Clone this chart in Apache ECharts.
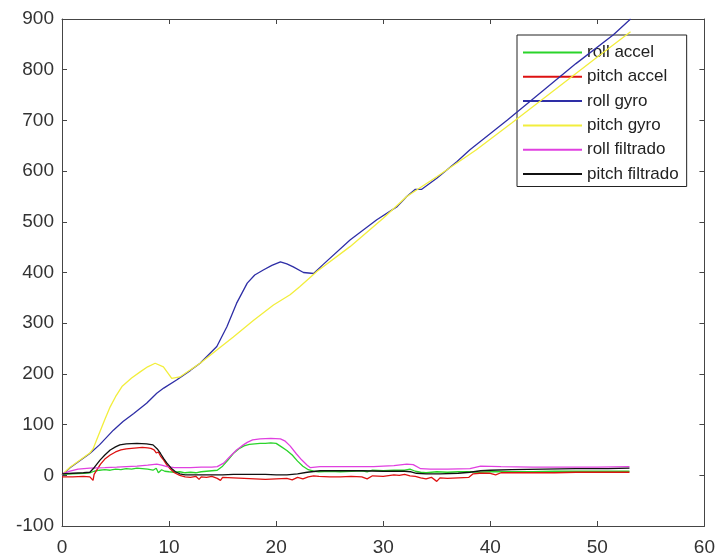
<!DOCTYPE html>
<html>
<head>
<meta charset="utf-8">
<script src="https://cdn.jsdelivr.net/npm/echarts@6/dist/echarts.min.js"></script>
<style>html,body{margin:0;padding:0;background:#fff;}#chart{width:718px;height:557px;}</style>
</head>
<body>
<div id="chart"></div>
<script>
const seriesNames = ['roll accel', 'pitch accel', 'roll gyro', 'pitch gyro', 'roll filtrado', 'pitch filtrado'];
const xTicks = [0, 10, 20, 30, 40, 50, 60];
const yTicks = [-100, 0, 100, 200, 300, 400, 500, 600, 700, 800, 900];

const rollAccel = [[0,2],[1,3],[2,4],[2.6,5],[3.0,8],[3.5,10],[4,11],[4.5,10],[5,12],[5.5,11],[6,13],[6.5,12],[7,14],[7.5,13],[8,12],[8.5,10],[8.8,14],[9,5],[9.3,11],[9.6,8],[10,7],[10.5,6],[11,7],[11.5,5],[12,6],[12.5,5],[13,7],[13.5,8],[14,9],[14.5,10],[15,18],[15.5,30],[16,43],[16.5,52],[17,58],[17.5,61],[18,62],[18.5,63],[19,63],[19.5,64],[20,63],[20.5,56],[21,49],[21.5,40],[22,28],[22.5,18],[23,11],[23.5,8],[24,7],[25,8],[26,7],[27,8],[28,9],[28.5,7],[29,10],[30,9],[31,10],[32,10],[32.5,12],[33,8],[33.5,6],[34,5],[34.5,6],[35,7],[36,6],[37,7],[38,7],[39,6],[40,7],[42,7],[44,7],[46,8],[48,8],[50,8],[53,8]];

const pitchAccel = [[0,-3],[1,-3],[2,-2],[2.6,-3],[2.9,-10],[3.0,2],[3.3,12],[3.6,22],[4,32],[4.5,40],[5,46],[5.5,50],[6,52],[6.5,53],[7,54],[7.5,55],[8,54],[8.3,53],[8.6,50],[8.8,44],[9,46],[9.2,38],[9.5,30],[9.8,20],[10.1,13],[10.5,5],[11,0],[11.5,-3],[12,-4],[12.5,-2],[12.8,-8],[13,-3],[13.5,-4],[14,-2],[14.5,-6],[14.8,-10],[15,-4],[16,-5],[17,-6],[18,-7],[19,-8],[20,-7],[21,-6],[21.5,-9],[22,-4],[22.5,-7],[23,-3],[23.5,-1],[24,-2],[25,-3],[26,-3],[27,-2],[28,-3],[28.5,-7],[29,-1],[30,-2],[31,1],[31.5,0],[32,2],[32.5,-1],[33,-2],[33.5,-5],[34,-7],[34.5,-4],[35,-12],[35.3,-5],[36,-6],[37,-5],[38,-4],[38.4,3],[39,4],[40,4],[40.5,1],[41,5],[42,5],[44,5],[46,5],[48,6],[50,6],[53,6]];

const rollGyro = [[0,0],[0.75,15],[2.6,43],[3.5,60],[4.8,89],[5.7,106],[6.7,122],[7.9,142],[8.85,162],[9.5,172],[10.7,188],[12,207],[12.9,221],[14.46,254],[15.4,293],[16.3,339],[17.3,379],[18.0,395],[18.8,405],[19.6,414],[20.4,421],[21.0,417],[21.6,411],[22.55,400],[23.5,398],[24.4,416],[26.9,464],[29.4,504],[31.3,530],[32.2,550],[33.0,564],[33.6,564],[35,586],[36.9,619],[38.1,642],[41.6,701],[45,760],[48,812],[51.5,869],[53.1,900]];

const pitchGyro = [[0,1],[0.75,16],[2.6,44],[2.9,52],[3.24,70],[4.0,110],[4.5,135],[5.0,155],[5.6,175],[6.5,192],[7.3,204],[8.0,214],[8.7,221],[9.47,214],[10.25,191],[11.0,194],[12.9,221],[14.46,247],[16.0,273],[17.9,306],[19.75,336],[21.3,356],[22.2,372],[23.8,402],[26.9,451],[30.0,507],[32.2,550],[35.0,589],[38.7,642],[42,695],[46,760],[50,825],[53.1,875]];

const rollFiltrado = [[0,3],[0.75,8],[1.5,12],[2.6,14],[4,15],[5.1,16],[6,17],[7,18],[8,20],[8.85,22],[9.3,20],[9.8,17],[10.5,15],[12,15],[13,16],[14,16],[14.5,17],[15.1,24],[15.6,35],[16.3,50],[16.8,58],[17.3,65],[17.8,70],[18.5,72],[19.5,73],[20.4,72],[20.8,68],[21.3,58],[21.9,42],[22.4,30],[22.9,20],[23.2,15],[24.1,17],[26,17],[28,17],[29.1,17],[30,18],[31,19],[32.2,22],[32.8,21],[33.5,13],[34.4,12],[36,12],[38.1,13],[39.1,18],[41,17],[44,16],[47,16],[50,16],[53,17]];

const pitchFiltrado = [[0,3],[1,4],[2,5],[2.6,6],[3.0,15],[3.55,30],[4,40],[4.5,50],[5,56],[5.4,60],[6,62],[7,63],[7.9,62],[8.5,60],[8.9,52],[9.2,43],[9.5,33],[9.8,24],[10.2,14],[10.6,7],[11,3],[11.5,1],[12,1],[14,1],[15,1],[16,2],[17,2],[18,2],[19,2],[20,1],[21,1],[22,3],[22.9,6],[24.1,9],[26,9],[28,9],[30,8],[32,8],[32.6,7],[33.1,4],[34,3],[35.3,3],[37,4],[38.1,6],[39.1,9],[40,10],[42,11],[45,12],[48,13],[51,13],[53,14]];

const seriesData = [rollAccel, pitchAccel, rollGyro, pitchGyro, rollFiltrado, pitchFiltrado];
const colors = ['#2ad42a', '#dd1111', '#2e2ea6', '#f2ee3c', '#e040e0', '#111111'];

const axisColor = '#454545';
const labelColor = '#333333';
const font = 'Liberation Sans, Arial, sans-serif';

function xAx(pos, showLabel) {
  return {
    type: 'value', position: pos, min: xTicks[0], max: xTicks[xTicks.length - 1], interval: 10,
    axisLine: { show: true, onZero: false, lineStyle: { color: axisColor, width: 1 } },
    axisTick: { show: true, inside: true, length: 5, lineStyle: { color: axisColor } },
    axisLabel: { show: showLabel, color: labelColor, fontSize: 19, fontFamily: font, margin: 12 },
    splitLine: { show: false }
  };
}
function yAx(pos, showLabel) {
  return {
    type: 'value', position: pos, min: yTicks[0], max: yTicks[yTicks.length - 1], interval: 100,
    axisLine: { show: true, onZero: false, lineStyle: { color: axisColor, width: 1 } },
    axisTick: { show: true, inside: true, length: 5, lineStyle: { color: axisColor } },
    axisLabel: { show: showLabel, color: labelColor, fontSize: 19, fontFamily: font, margin: 8 },
    splitLine: { show: false }
  };
}

const chart = echarts.init(document.getElementById('chart'), null, { renderer: 'canvas' });
chart.setOption({
  backgroundColor: '#ffffff',
  animation: false,
  grid: { left: 62, right: 13, top: 19, bottom: 31, containLabel: false },
  xAxis: [xAx('bottom', true), xAx('top', false)],
  yAxis: [yAx('left', true), yAx('right', false)],
  legend: {
    orient: 'vertical', left: 517, top: 35,
    data: seriesNames.map(n => ({ name: n, icon: 'rect' })),
    backgroundColor: '#ffffff', borderColor: '#222222', borderWidth: 1,
    padding: [9, 8, 4, 6],
    itemWidth: 59, itemHeight: 2, itemGap: 7.3,
    textStyle: { color: '#222222', fontSize: 17, fontFamily: font }
  },
  series: seriesNames.map((name, i) => ({
    name: name, type: 'line', data: seriesData[i],
    symbol: 'none', showSymbol: false,
    lineStyle: { color: colors[i], width: 1.3 },
    itemStyle: { color: colors[i] },
    z: 2 + i
  }))
});
</script>
</body>
</html>
